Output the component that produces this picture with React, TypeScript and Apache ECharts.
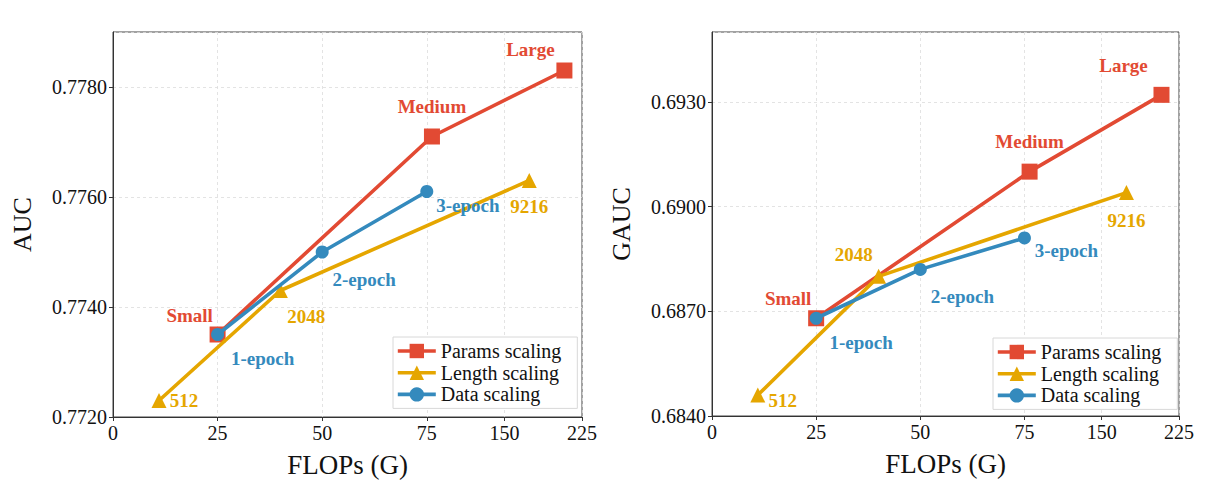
import React, { useEffect, useRef } from "react";
import * as echarts from "echarts";

// ---- data ----
const xTickLabels = ["0", "25", "50", "75", "150", "225"];
const xTickValues = [0, 25, 50, 75, 150, 225];

const paramsFlops = [25, 80, 208];
const paramsNames = ["Small", "Medium", "Large"];
const paramsAUC = [0.7735, 0.7771, 0.7783];
const paramsGAUC = [0.6868, 0.691, 0.6932];

const lengthFlops = [11, 40, 174];
const lengthNames = ["512", "2048", "9216"];
const lengthAUC = [0.7723, 0.7743, 0.7763];
const lengthGAUC = [0.6846, 0.688, 0.6904];

const dataFlops = [25, 50, 75];
const dataNames = ["1-epoch", "2-epoch", "3-epoch"];
const dataAUC = [0.7735, 0.775, 0.7761];
const dataGAUC = [0.6868, 0.6882, 0.6891];

// label offsets (px) per chart
const offL = {
  params: [[-28, -19], [0, -30], [-34, -21]],
  length: [[25, 0], [26, 26], [0, 26]],
  data: [[45, 24], [42, 27], [41, 14]],
};
const offR = {
  params: [[-28, -20], [0, -30], [-38, -29]],
  length: [[25, 5], [-25, -22], [0, 28]],
  data: [[45, 24], [42, 27], [42, 13]],
};

const RED = "#E24A33";
const YEL = "#E5A600";
const BLUE = "#348ABD";
const FONT = "'Liberation Serif', 'DejaVu Serif', serif";

// piecewise axis transform: 0..75 linear, 75..225 compressed
const K = 0.742;
const pos = (v: number) => (v <= 75 ? v / 25 : 3 + ((v - 75) / 75) * K);
const tickPos = xTickValues.map(pos);

function mkData(xs: number[], ys: number[], names: string[], offs: number[][]) {
  return xs.map((x, i) => ({
    value: [pos(x), ys[i]],
    label: { formatter: names[i], offset: offs[i] },
  }));
}

export default function App() {
  const ref = useRef<HTMLDivElement>(null);
  useEffect(() => {
    document.body.style.margin = "0";
    const chart = echarts.init(ref.current!, undefined, { renderer: "svg" });

    const xAxisBase = (gridIndex: number) => ({
      type: "value" as const,
      gridIndex,
      min: 0,
      max: tickPos[tickPos.length - 1],
      name: "FLOPs (G)",
      nameLocation: "middle" as const,
      nameGap: 34,
      nameTextStyle: { fontFamily: FONT, fontSize: 27, color: "#111" },
      axisLine: { show: true, lineStyle: { color: "#333", width: 1 } },
      axisTick: {
        show: true,
        length: 4,
        inside: false,
        customValues: tickPos,
        lineStyle: { color: "#333" },
      },
      axisLabel: {
        customValues: tickPos,
        fontFamily: FONT,
        fontSize: 20,
        color: "#111",
        margin: 6,
        formatter: (v: number) => {
          let best = 0;
          for (let i = 0; i < tickPos.length; i++)
            if (Math.abs(tickPos[i] - v) < Math.abs(tickPos[best] - v)) best = i;
          return xTickLabels[best];
        },
      },
      splitLine: {
        show: true,
        lineStyle: { color: "#dcdcdc", type: [3, 3], width: 0.8 },
      },
    });

    const yAxisBase = (gridIndex: number, name: string, min: number, max: number, interval: number) => ({
      type: "value" as const,
      gridIndex,
      min,
      max,
      interval,
      name,
      nameLocation: "middle" as const,
      nameGap: 78,
      nameTextStyle: { fontFamily: FONT, fontSize: 26, color: "#111" },
      axisLine: { show: true, lineStyle: { color: "#333", width: 1 } },
      axisTick: { show: true, length: 4, lineStyle: { color: "#333" } },
      axisLabel: {
        fontFamily: FONT,
        fontSize: 20,
        color: "#111",
        margin: 6,
        formatter: (v: number) => v.toFixed(4),
        showMaxLabel: false,
      },
      splitLine: {
        show: true,
        lineStyle: { color: "#dcdcdc", type: [3, 3], width: 0.8 },
      },
    });

    const seriesBase = (
      name: string,
      color: string,
      symbol: string,
      symbolSize: number,
      idx: number,
      data: any[],
      z: number
    ) => ({
      type: "line" as const,
      name,
      xAxisIndex: idx,
      yAxisIndex: idx,
      data,
      symbol,
      symbolSize,
      z,
      lineStyle: { color, width: 3.6 },
      itemStyle: { color, opacity: 1 },
      label: {
        show: true,
        position: "inside" as const,
        align: "center" as const,
        verticalAlign: "middle" as const,
        fontFamily: FONT,
        fontWeight: "bold" as const,
        fontSize: 19,
        color,
      },
      emphasis: { disabled: true },
    });

    const legendBase = (left: number, top: number) => ({
      left,
      top,
      orient: "vertical" as const,
      data: ["Params scaling", "Length scaling", "Data scaling"],
      itemWidth: 38,
      itemHeight: 18,
      itemGap: 1.7,
      padding: [4, 16, 4, 3],
      backgroundColor: "#fff",
      borderColor: "#d8d8d8",
      borderWidth: 1,
      borderRadius: 0,
      selectedMode: false,
      lineStyle: { width: 3.6 },
      textStyle: { fontFamily: FONT, fontSize: 20, color: "#111", lineHeight: 20 },
    });

    chart.setOption({
      animation: false,
      grid: [
        { left: 113, top: 32, width: 469, height: 385, show: true, borderColor: "#444", borderWidth: 1, backgroundColor: "transparent" },
        { left: 712, top: 32, width: 467, height: 384, show: true, borderColor: "#444", borderWidth: 1, backgroundColor: "transparent" },
      ],
      xAxis: [xAxisBase(0), xAxisBase(1)],
      yAxis: [
        yAxisBase(0, "AUC", 0.772, 0.779, 0.002),
        yAxisBase(1, "GAUC", 0.684, 0.695, 0.003),
      ],
      legend: [legendBase(393, 337), legendBase(993, 338)],
      series: [
        seriesBase("Params scaling", RED, "rect", 16, 0, mkData(paramsFlops, paramsAUC, paramsNames, offL.params), 2),
        seriesBase("Length scaling", YEL, "triangle", 15, 0, mkData(lengthFlops, lengthAUC, lengthNames, offL.length), 3),
        seriesBase("Data scaling", BLUE, "circle", 13, 0, mkData(dataFlops, dataAUC, dataNames, offL.data), 4),
        seriesBase("Params scaling", RED, "rect", 16, 1, mkData(paramsFlops, paramsGAUC, paramsNames, offR.params), 2),
        seriesBase("Length scaling", YEL, "triangle", 15, 1, mkData(lengthFlops, lengthGAUC, lengthNames, offR.length), 3),
        seriesBase("Data scaling", BLUE, "circle", 13, 1, mkData(dataFlops, dataGAUC, dataNames, offR.data), 4),
      ],
    });
    return () => chart.dispose();
  }, []);
  return (
    <div
      ref={ref}
      style={{ position: "absolute", left: 0, top: 0, width: 1215, height: 490, background: "#fff" }}
    />
  );
}
